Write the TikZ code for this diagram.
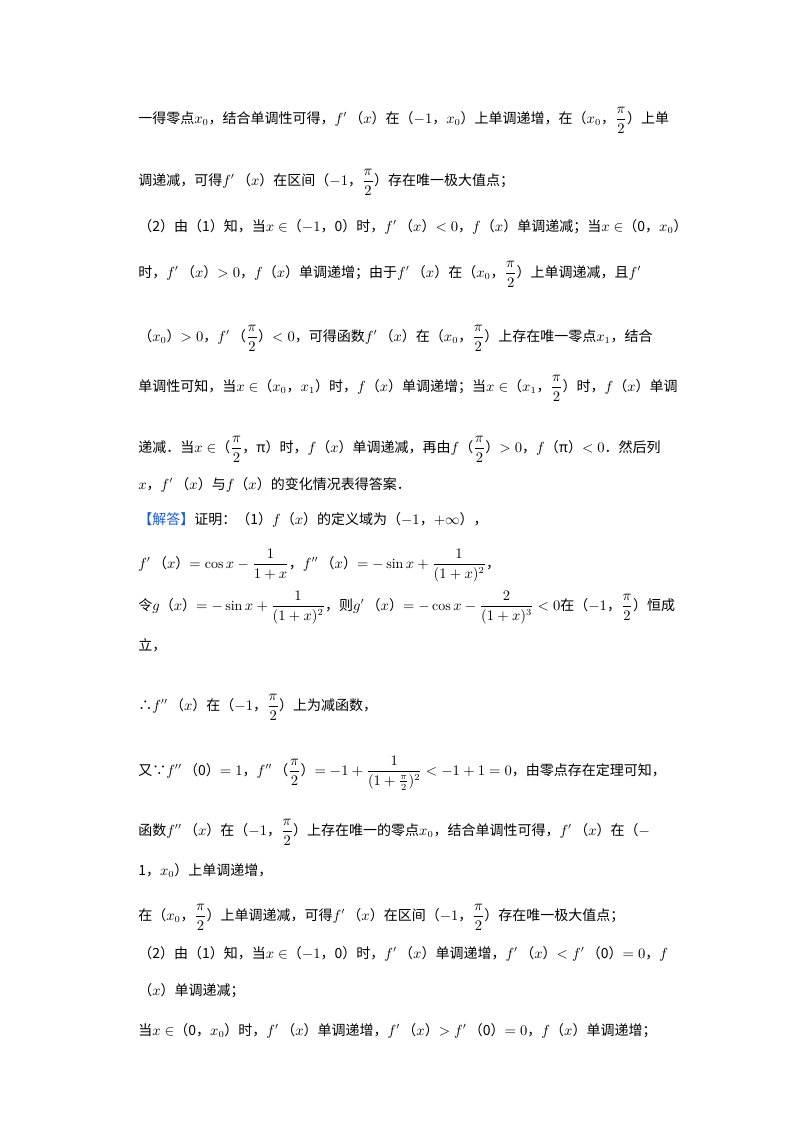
\documentclass[tikz,border=0pt]{standalone}
\usepackage{amsmath}
\usepackage{fontspec}
\newfontfamily\cjk{Noto Sans CJK SC}
\newcommand\Fp{$f'$\,（$x$）}
\newcommand\Fpp{$f''$\,（$x$）}
\newcommand\Fx{$f$（$x$）}
\newcommand\ph{$\dfrac{\pi}{2}$}
\definecolor{ansblue}{RGB}{30,90,200}
\begin{document}
\begin{tikzpicture}[x=0.75pt,y=-0.75pt]
\tikzset{ln/.style={anchor=base west, inner sep=0, font=\cjk\fontsize{10.5}{12}\selectfont}}
\useasboundingbox (0,0) rectangle (800,1132);
\node[ln] (l1) at (138,123) {一得零点$x_0$，结合单调性可得，\Fp 在（$-1$，$x_0$）上单调递增，在（$x_0$，\ph）上单};
\node[ln] (l2) at (138,185) {调递减，可得\Fp 在区间（$-1$，\ph）存在唯一极大值点；};
\node[ln] (l3) at (138,231) {（2）由（1）知，当$x\in$（$-1$，0）时，\Fp $<0$，\Fx 单调递减；当$x\in$（0，$x_0$）};
\node[ln] (l4) at (138,277) {时，\Fp $>0$，\Fx 单调递增；由于\Fp 在（$x_0$，\ph）上单调递减，且$f'$};
\node[ln] (l5) at (138,341) {（$x_0$）$>0$，$f'$\,（\ph）$<0$，可得函数\Fp 在（$x_0$，\ph）上存在唯一零点$x_1$，结合};
\node[ln] (l6) at (138,391) {单调性可知，当$x\in$（$x_0$，$x_1$）时，\Fx 单调递增；当$x\in$（$x_1$，\ph）时，\Fx 单调};
\node[ln] (l7) at (138,452) {递减．当$x\in$（\ph，π）时，\Fx 单调递减，再由$f$（\ph）$>0$，$f$（π）$<0$．然后列};
\node[ln] (l8) at (138,489) {$x$，\Fp 与\Fx 的变化情况表得答案．};
\node[ln] (l9) at (138,524) {\textcolor{ansblue}{【解答】}证明：（1）\Fx 的定义域为（$-1$，$+\infty$），};
\node[ln] (l10) at (138,568) {\Fp $=\cos x-\dfrac{1}{1+x}$，\Fpp $=-\sin x+\dfrac{1}{(1+x)^2}$，};
\node[ln] (l11) at (138,610) {令$g$（$x$）$=-\sin x+\dfrac{1}{(1+x)^2}$，则$g'$\,（$x$）$=-\cos x-\dfrac{2}{(1+x)^3}<0$在（$-1$，\ph）恒成};
\node[ln] (l12) at (138,650) {立，};
\node[ln] (l13) at (138,710) {∴\Fpp 在（$-1$，\ph）上为减函数，};
\node[ln] (l14) at (138,775) {又∵$f''$\,（0）$=1$，$f''$\,（\ph）$=-1+\dfrac{1}{(1+\frac{\pi}{2})^2}<-1+1=0$，由零点存在定理可知，};
\node[ln] (l15) at (138,835) {函数\Fpp 在（$-1$，\ph）上存在唯一的零点$x_0$，结合单调性可得，\Fp 在（$-$};
\node[ln] (l16) at (138,875) {1，$x_0$）上单调递增，};
\node[ln] (l17) at (138,920) {在（$x_0$，\ph）上单调递减，可得\Fp 在区间（$-1$，\ph）存在唯一极大值点；};
\node[ln] (l18) at (138,958) {（2）由（1）知，当$x\in$（$-1$，0）时，\Fp 单调递增，\Fp $<f'$\,（0）$=0$，$f$};
\node[ln] (l19) at (138,995) {（$x$）单调递减；};
\node[ln] (l20) at (138,1035) {当$x\in$（0，$x_0$）时，\Fp 单调递增，\Fp $>f'$\,（0）$=0$，\Fx 单调递增；};
\end{tikzpicture}
\end{document}
